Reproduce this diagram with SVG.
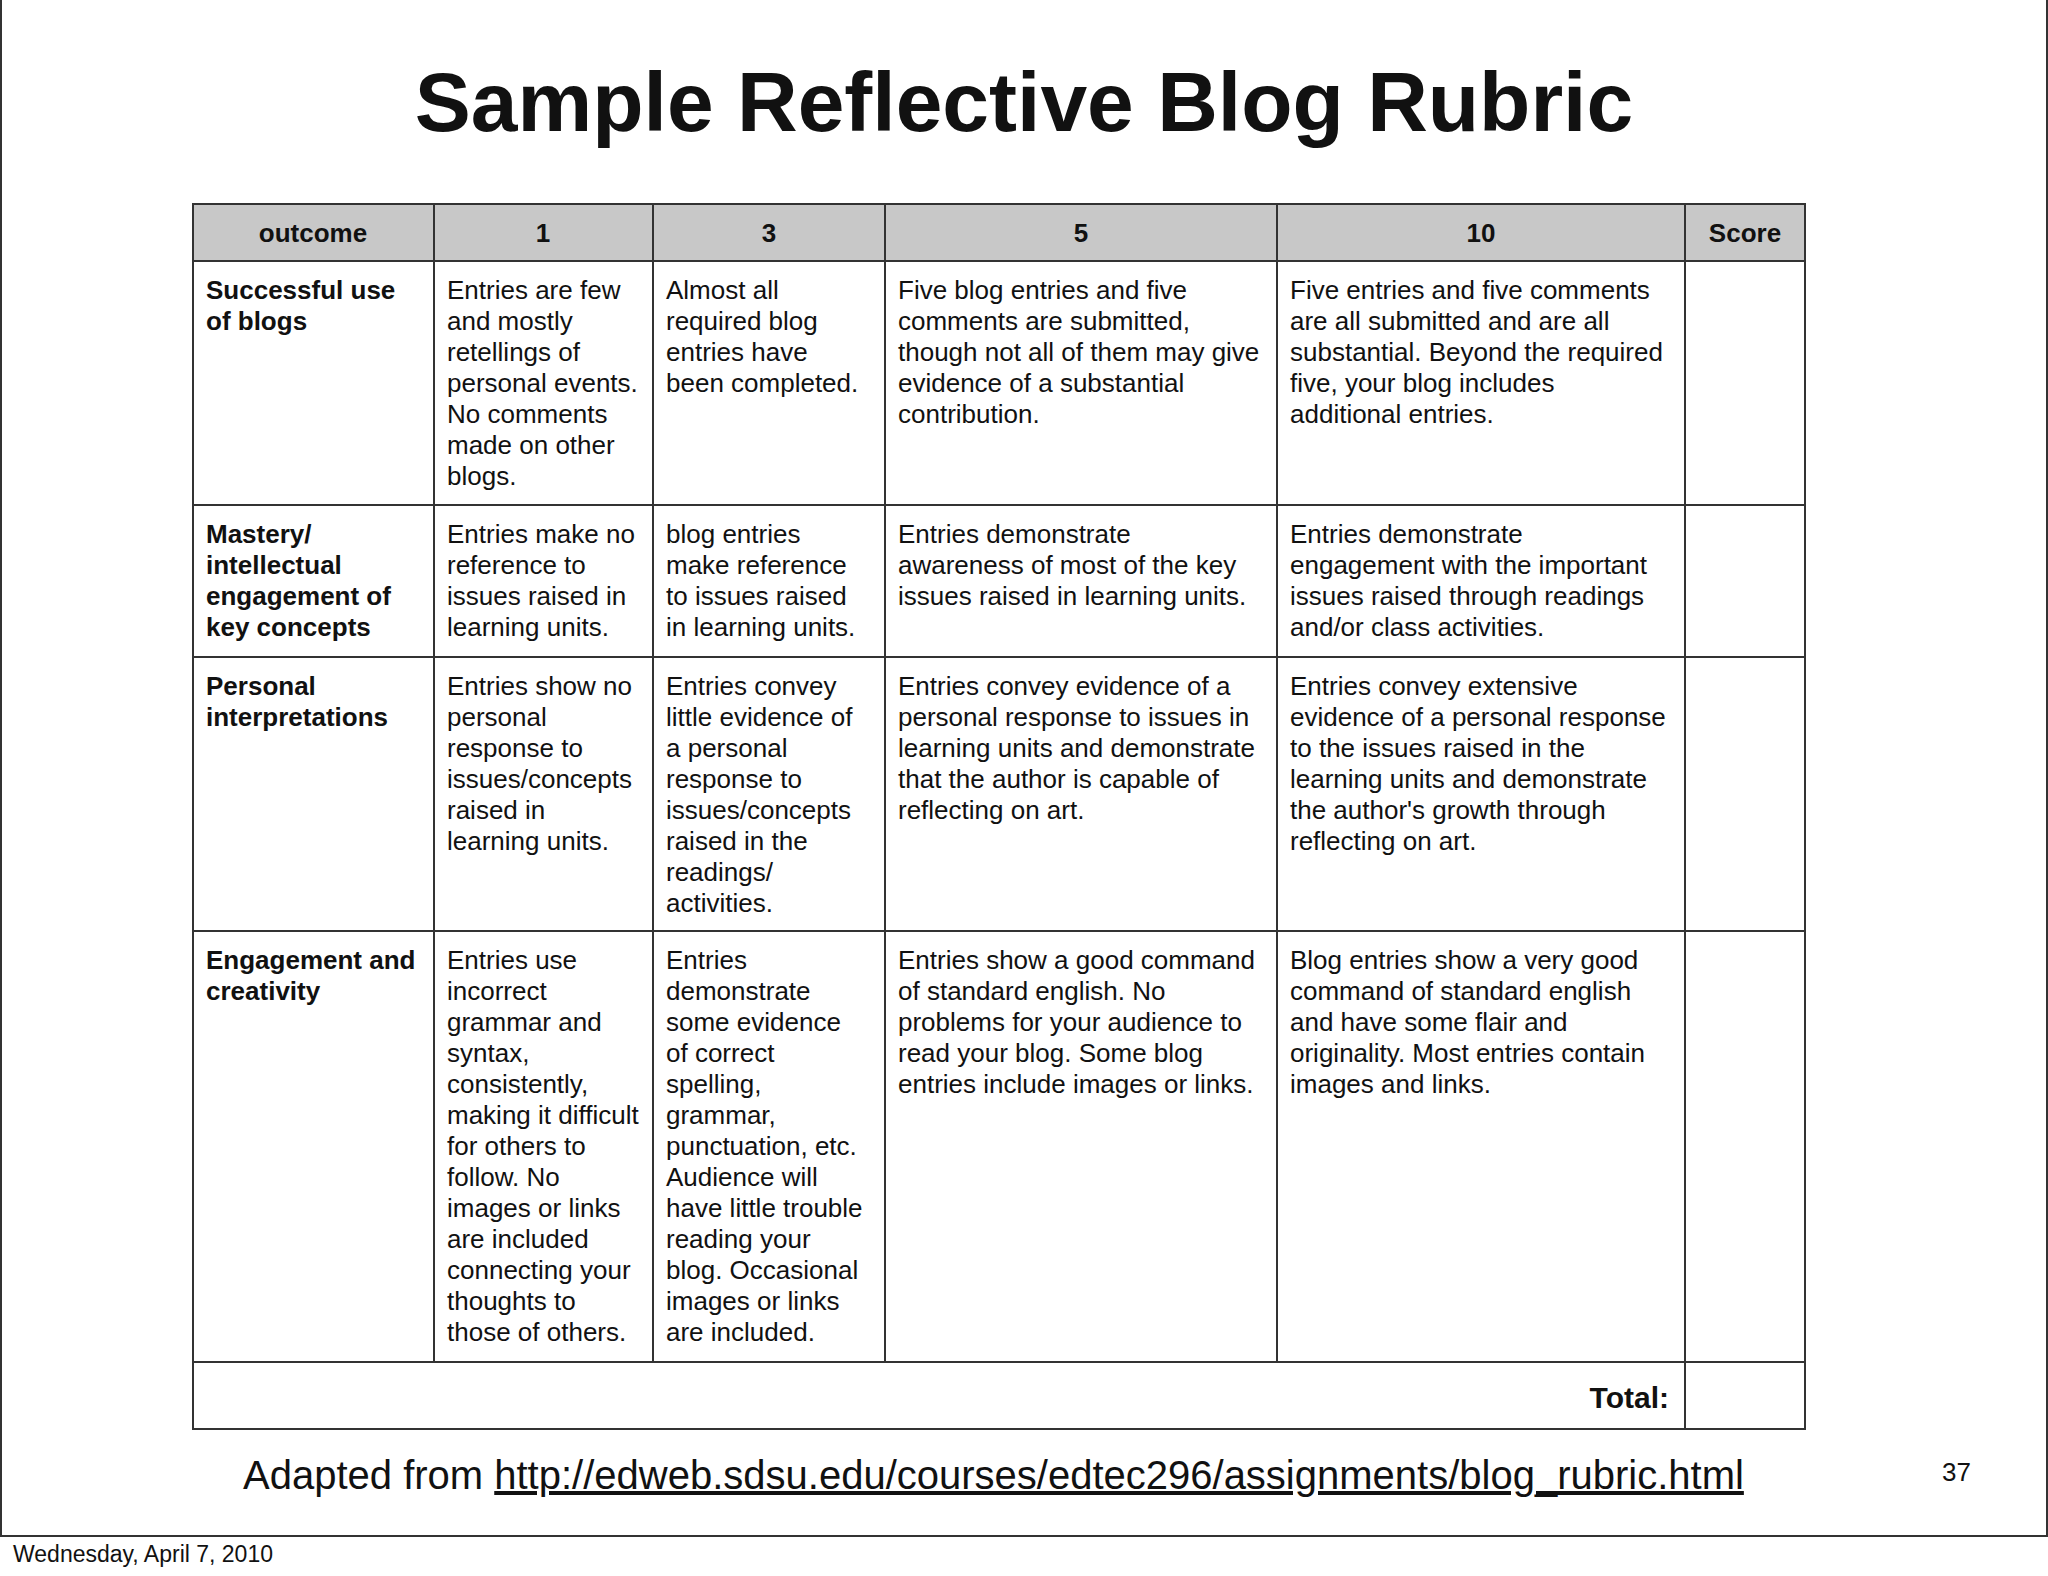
<svg xmlns="http://www.w3.org/2000/svg" width="2048" height="1576" viewBox="0 0 2048 1576">
<style>
text{font-family:"Liberation Sans",Arial,sans-serif;fill:#111}
.b{font-size:26px}
.h{font-size:26px;font-weight:bold}
.g{stroke:#333;stroke-width:2;fill:none}
</style>
<rect width="2048" height="1576" fill="#fff"/>
<g id="frame"><path d="M1 0V1536H2047V0" class="g" stroke-width="1.5"/></g>
<text x="1024" y="131" text-anchor="middle" style="font-size:84px;font-weight:bold">Sample Reflective Blog Rubric</text>
<g id="table">
<rect x="193" y="204" width="1612" height="57" fill="#c8c8c8"/>
<rect x="193" y="204" width="1612" height="1225" class="g"/>
<path class="g" d="M193 261H1805M193 505H1805M193 657H1805M193 931H1805M193 1362H1805M434 204V1362M653 204V1362M885 204V1362M1277 204V1362M1685 204V1429"/>
<g class="h" text-anchor="middle">
<text x="313" y="242" class="h">outcome</text><text x="543" y="242" class="h">1</text><text x="769" y="242" class="h">3</text><text x="1081" y="242" class="h">5</text><text x="1481" y="242" class="h">10</text><text x="1745" y="242" class="h">Score</text>
</g>
<g class="h">
<text x="206" y="299" class="h"><tspan x="206">Successful use</tspan><tspan x="206" dy="31">of blogs</tspan></text>
<text x="206" y="543" class="h"><tspan x="206">Mastery/</tspan><tspan x="206" dy="31">intellectual</tspan><tspan x="206" dy="31">engagement of</tspan><tspan x="206" dy="31">key concepts</tspan></text>
<text x="206" y="695" class="h"><tspan x="206">Personal</tspan><tspan x="206" dy="31">interpretations</tspan></text>
<text x="206" y="969" class="h"><tspan x="206">Engagement and</tspan><tspan x="206" dy="31">creativity</tspan></text>
</g>
<g id="r1" class="b">
<text x="447" y="299" class="b"><tspan x="447">Entries are few</tspan><tspan x="447" dy="31">and mostly</tspan><tspan x="447" dy="31">retellings of</tspan><tspan x="447" dy="31">personal events.</tspan><tspan x="447" dy="31">No comments</tspan><tspan x="447" dy="31">made on other</tspan><tspan x="447" dy="31">blogs.</tspan></text>
<text x="666" y="299" class="b"><tspan x="666">Almost all</tspan><tspan x="666" dy="31">required blog</tspan><tspan x="666" dy="31">entries have</tspan><tspan x="666" dy="31">been completed.</tspan></text>
<text x="898" y="299" class="b"><tspan x="898">Five blog entries and five</tspan><tspan x="898" dy="31">comments are submitted,</tspan><tspan x="898" dy="31">though not all of them may give</tspan><tspan x="898" dy="31">evidence of a substantial</tspan><tspan x="898" dy="31">contribution.</tspan></text>
<text x="1290" y="299" class="b"><tspan x="1290">Five entries and five comments</tspan><tspan x="1290" dy="31">are all submitted and are all</tspan><tspan x="1290" dy="31">substantial. Beyond the required</tspan><tspan x="1290" dy="31">five, your blog includes</tspan><tspan x="1290" dy="31">additional entries.</tspan></text>
</g>
<g id="r2" class="b">
<text x="447" y="543" class="b"><tspan x="447">Entries make no</tspan><tspan x="447" dy="31">reference to</tspan><tspan x="447" dy="31">issues raised in</tspan><tspan x="447" dy="31">learning units.</tspan></text>
<text x="666" y="543" class="b"><tspan x="666">blog entries</tspan><tspan x="666" dy="31">make reference</tspan><tspan x="666" dy="31">to issues raised</tspan><tspan x="666" dy="31">in learning units.</tspan></text>
<text x="898" y="543" class="b"><tspan x="898">Entries demonstrate</tspan><tspan x="898" dy="31">awareness of most of the key</tspan><tspan x="898" dy="31">issues raised in learning units.</tspan></text>
<text x="1290" y="543" class="b"><tspan x="1290">Entries demonstrate</tspan><tspan x="1290" dy="31">engagement with the important</tspan><tspan x="1290" dy="31">issues raised through readings</tspan><tspan x="1290" dy="31">and/or class activities.</tspan></text>
</g>
<g id="r3" class="b">
<text x="447" y="695" class="b"><tspan x="447">Entries show no</tspan><tspan x="447" dy="31">personal</tspan><tspan x="447" dy="31">response to</tspan><tspan x="447" dy="31">issues/concepts</tspan><tspan x="447" dy="31">raised in</tspan><tspan x="447" dy="31">learning units.</tspan></text>
<text x="666" y="695" class="b"><tspan x="666">Entries convey</tspan><tspan x="666" dy="31">little evidence of</tspan><tspan x="666" dy="31">a personal</tspan><tspan x="666" dy="31">response to</tspan><tspan x="666" dy="31">issues/concepts</tspan><tspan x="666" dy="31">raised in the</tspan><tspan x="666" dy="31">readings/</tspan><tspan x="666" dy="31">activities.</tspan></text>
<text x="898" y="695" class="b"><tspan x="898">Entries convey evidence of a</tspan><tspan x="898" dy="31">personal response to issues in</tspan><tspan x="898" dy="31">learning units and demonstrate</tspan><tspan x="898" dy="31">that the author is capable of</tspan><tspan x="898" dy="31">reflecting on art.</tspan></text>
<text x="1290" y="695" class="b"><tspan x="1290">Entries convey extensive</tspan><tspan x="1290" dy="31">evidence of a personal response</tspan><tspan x="1290" dy="31">to the issues raised in the</tspan><tspan x="1290" dy="31">learning units and demonstrate</tspan><tspan x="1290" dy="31">the author's growth through</tspan><tspan x="1290" dy="31">reflecting on art.</tspan></text>
</g>
<g id="r4" class="b">
<text x="447" y="969" class="b"><tspan x="447">Entries use</tspan><tspan x="447" dy="31">incorrect</tspan><tspan x="447" dy="31">grammar and</tspan><tspan x="447" dy="31">syntax,</tspan><tspan x="447" dy="31">consistently,</tspan><tspan x="447" dy="31">making it difficult</tspan><tspan x="447" dy="31">for others to</tspan><tspan x="447" dy="31">follow.  No</tspan><tspan x="447" dy="31">images or links</tspan><tspan x="447" dy="31">are included</tspan><tspan x="447" dy="31">connecting your</tspan><tspan x="447" dy="31">thoughts to</tspan><tspan x="447" dy="31">those of others.</tspan></text>
<text x="666" y="969" class="b"><tspan x="666">Entries</tspan><tspan x="666" dy="31">demonstrate</tspan><tspan x="666" dy="31">some evidence</tspan><tspan x="666" dy="31">of correct</tspan><tspan x="666" dy="31">spelling,</tspan><tspan x="666" dy="31">grammar,</tspan><tspan x="666" dy="31">punctuation, etc.</tspan><tspan x="666" dy="31">Audience will</tspan><tspan x="666" dy="31">have little trouble</tspan><tspan x="666" dy="31">reading your</tspan><tspan x="666" dy="31">blog.  Occasional</tspan><tspan x="666" dy="31">images or links</tspan><tspan x="666" dy="31">are included.</tspan></text>
<text x="898" y="969" class="b"><tspan x="898">Entries show a good command</tspan><tspan x="898" dy="31">of standard english. No</tspan><tspan x="898" dy="31">problems for your audience to</tspan><tspan x="898" dy="31">read your blog.  Some blog</tspan><tspan x="898" dy="31">entries include images or links.</tspan></text>
<text x="1290" y="969" class="b"><tspan x="1290">Blog entries show a very good</tspan><tspan x="1290" dy="31">command of standard english</tspan><tspan x="1290" dy="31">and have some flair and</tspan><tspan x="1290" dy="31">originality.  Most entries contain</tspan><tspan x="1290" dy="31">images and links.</tspan></text>
</g>
<text x="1669" y="1408" text-anchor="end" style="font-size:30px;font-weight:bold">Total:</text>
</g>
<text x="243" y="1489" style="font-size:40px">Adapted from <tspan text-decoration="underline">http://edweb.sdsu.edu/courses/edtec296/assignments/blog_rubric.html</tspan></text>
<text x="1942" y="1481" style="font-size:26px">37</text>
<text x="13" y="1562" style="font-size:23px">Wednesday, April 7, 2010</text>
</svg>
